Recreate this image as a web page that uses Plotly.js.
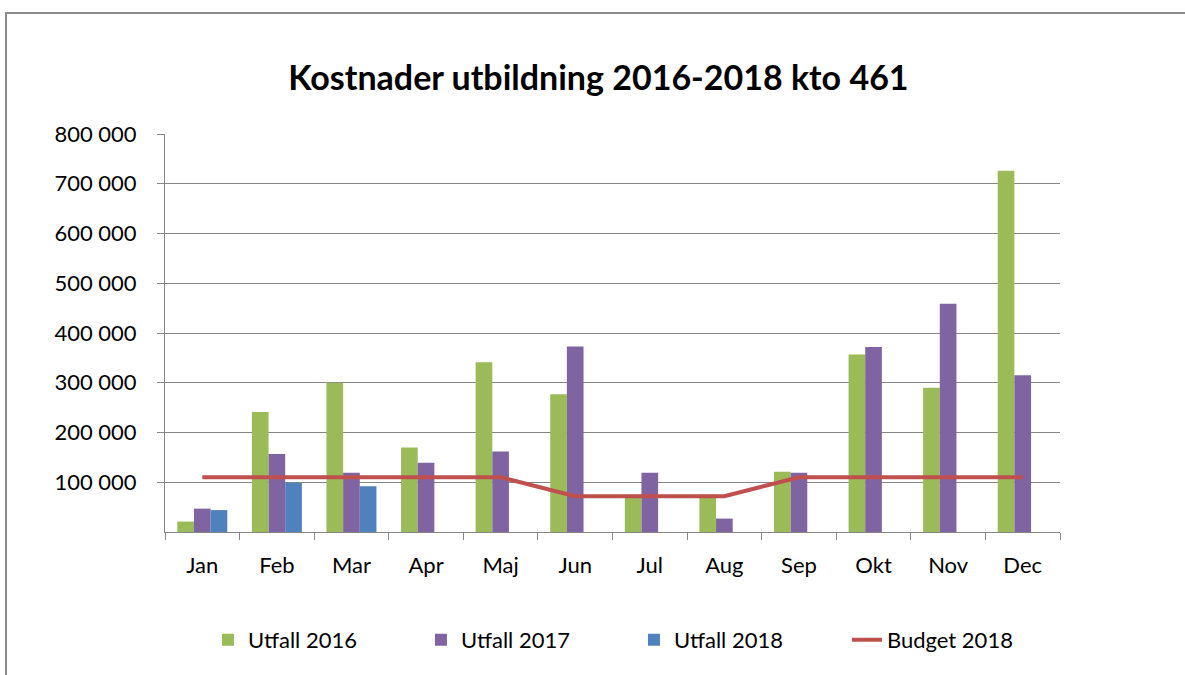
<!DOCTYPE html>
<html>
<head>
<meta charset="utf-8">
<script src="https://cdn.plot.ly/plotly-3.0.1.min.js"></script>
<style>
  html, body { margin: 0; padding: 0; background: #ffffff; }
  #wrap { position: relative; width: 1185px; height: 675px; overflow: hidden; }
  #frame { position: absolute; left: 5px; top: 12px; width: 1200px; height: 700px;
           border-left: 2px solid #8a8a8a; border-top: 2px solid #8a8a8a; box-sizing: border-box; pointer-events: none; }
  #chart { position: absolute; left: 0; top: 0; width: 1185px; height: 675px; }
</style>
</head>
<body>
<div id="wrap">
  <div id="chart"></div>
  <div id="frame"></div>
</div>
<script>
const months = ["Jan","Feb","Mar","Apr","Maj","Jun","Jul","Aug","Sep","Okt","Nov","Dec"];
const utfall2016 = [21000, 241000, 300000, 170000, 341000, 277000, 75000, 75000, 121000, 357000, 290000, 726000];
const utfall2017 = [47000, 157000, 119000, 139000, 162000, 373000, 119000, 27000, 119000, 372000, 459000, 315000];
const utfall2018 = [44000, 99000, 92000, null, null, null, null, null, null, null, null, null];
const budget2018 = [110000, 110000, 110000, 110000, 110000, 72000, 72000, 72000, 110000, 110000, 110000, 110000];
const yTickVals = [100000, 200000, 300000, 400000, 500000, 600000, 700000, 800000];
const yTickText = ["100 000","200 000","300 000","400 000","500 000","600 000","700 000","800 000"];

const font = "Lato, 'Open Sans', sans-serif";

const traces = [
  { type: "bar", name: "Utfall 2016", x: months, y: utfall2016, marker: { color: "#9BBB59" } },
  { type: "bar", name: "Utfall 2017", x: months, y: utfall2017, marker: { color: "#8064A2" } },
  { type: "bar", name: "Utfall 2018", x: months, y: utfall2018, marker: { color: "#4F81BD" } },
  { type: "scatter", mode: "lines", name: "Budget 2018", x: months, y: budget2018,
    line: { color: "#C0504D", width: 4 } }
];

const layout = {
  width: 1185, height: 675,
  paper_bgcolor: "rgba(0,0,0,0)", plot_bgcolor: "#ffffff",
  margin: { l: 165, r: 125, t: 134, b: 143 },
  barmode: "group", bargap: 0.33, bargroupgap: 0,
  showlegend: true,
  title: { text: "<b>Kostnader utbildning 2016-2018 kto 461</b>",
           font: { family: font, size: 34, color: "#000000" },
           x: 0.505, xanchor: "center", y: 0.885, yanchor: "middle" },
  font: { family: font, size: 22, color: "#000000" },
  xaxis: {
    type: "category", showgrid: false, showline: true, linecolor: "#868686", linewidth: 1,
    ticks: "outside", tickson: "boundaries", ticklen: 7, tickcolor: "#868686",
    tickfont: { family: font, size: 22, color: "#000000" }, zeroline: false,
    ticklabelstandoff: 14
  },
  yaxis: {
    range: [0, 800000], tickvals: yTickVals, ticktext: yTickText,
    showgrid: true, gridcolor: "#868686", gridwidth: 1,
    showline: true, linecolor: "#868686", linewidth: 1,
    ticks: "outside", ticklen: 7, tickcolor: "#868686", zeroline: false,
    tickfont: { family: font, size: 22, color: "#000000" },
    ticklabelstandoff: 16
  },
  legend: {
    orientation: "h", x: 0.048, xanchor: "left", y: -0.271, yanchor: "middle",
    font: { family: font, size: 22, color: "#000000" },
    entrywidth: 168, entrywidthmode: "pixels",
    traceorder: "normal", bgcolor: "rgba(0,0,0,0)"
  }
};

Plotly.newPlot("chart", traces, layout, { staticPlot: true, displayModeBar: false });
</script>
</body>
</html>
